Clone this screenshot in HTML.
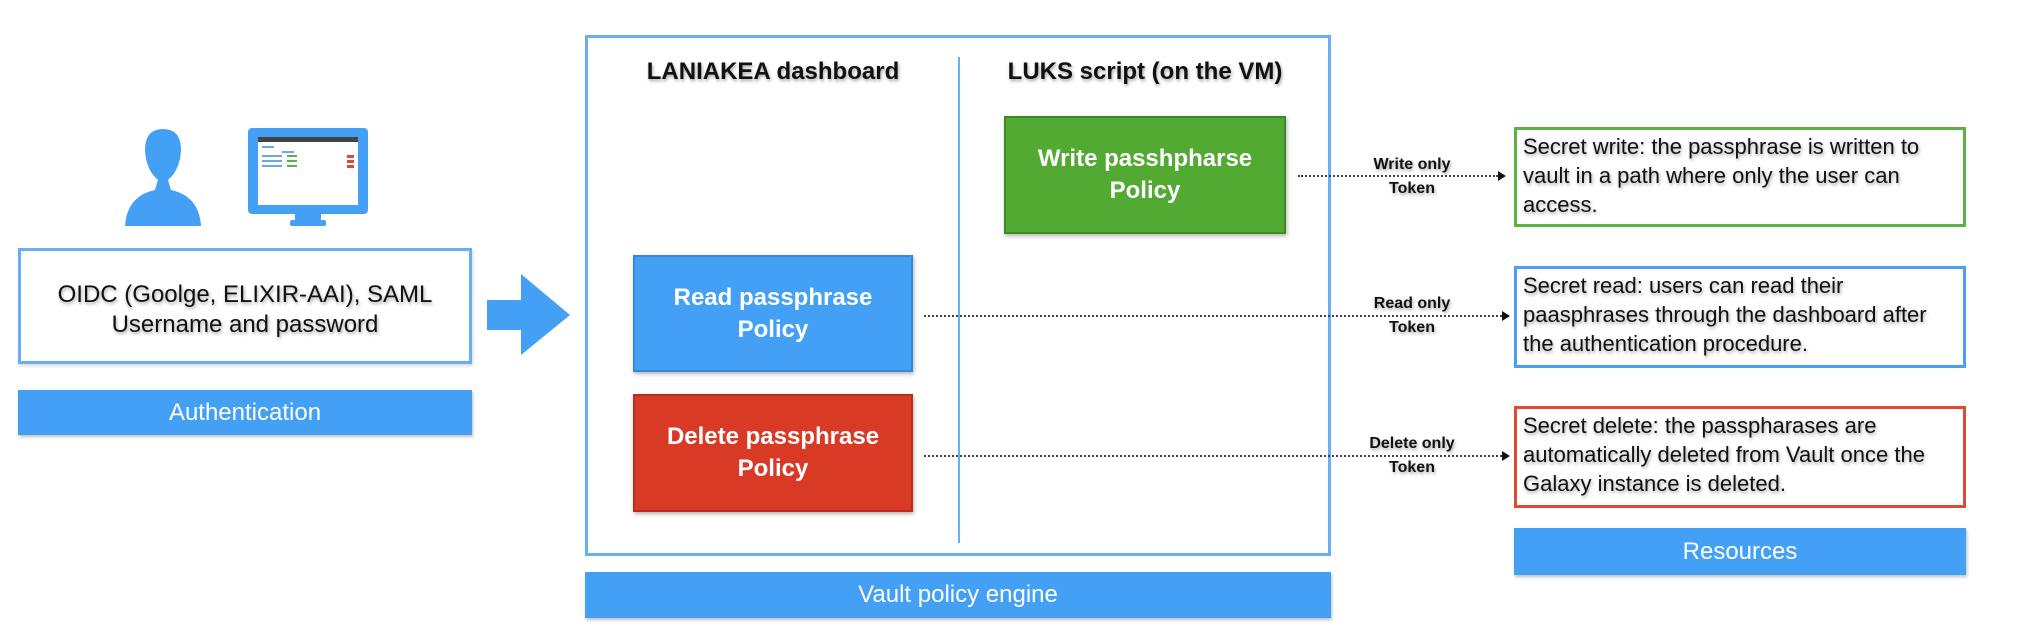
<!DOCTYPE html>
<html><head><meta charset="utf-8"><style>
body{margin:0;width:2026px;height:638px;background:#fff;position:relative;overflow:hidden;font-family:"Liberation Sans",sans-serif}
div{position:absolute;box-sizing:border-box}
.t{text-shadow:1px 2px 3px rgba(0,0,0,.35)}
.bar{background:#44a0f5;color:#fff;display:flex;align-items:center;justify-content:center;font-size:24px;box-shadow:1px 2px 3px rgba(0,0,0,.25)}
.pol{color:#fff;font-weight:bold;font-size:24px;line-height:32px;display:flex;align-items:center;justify-content:center;text-align:center;box-shadow:1px 2px 4px rgba(0,0,0,.3)}
.res{background:#fff;border:3px solid;font-size:22px;line-height:29px;padding:2px 6px;color:#111}
.lab{font-weight:bold;font-size:16px;line-height:24px;text-align:center;width:120px;color:#111}
.dot{border-top:2px dotted #444;height:0}
.ah{width:0;height:0;border-top:5px solid transparent;border-bottom:5px solid transparent;border-left:8px solid #111}
</style></head><body>
<svg style="position:absolute;left:0;top:0" width="2026" height="638">
<g fill="#44a0f5">
<path d="M125 226 Q127 196 155 190 L158 180 Q146 170 145 150 Q145 129 163 129 Q181 129 181 150 Q180 170 168 180 L171 190 Q199 196 201 226 Z"/>
<rect x="248" y="128" width="120" height="86" rx="4"/>
<rect x="295" y="212" width="26" height="10"/>
<rect x="290" y="220" width="36" height="6" rx="2"/>
<path d="M487 300 L521 300 L521 274 L570 315 L521 355 L521 330 L487 330 Z"/>
</g>
<rect x="258" y="137" width="100" height="68" fill="#fff"/>
<rect x="258" y="137" width="100" height="5" fill="#444"/>
<g fill="#6aa8e8"><rect x="262" y="146" width="12" height="2"/><rect x="262" y="155" width="20" height="2"/><rect x="262" y="160" width="20" height="2"/><rect x="262" y="165" width="20" height="2"/><rect x="282" y="151" width="12" height="2"/></g>
<g fill="#5ab04a"><rect x="287" y="155" width="10" height="2"/><rect x="287" y="160" width="10" height="2"/><rect x="287" y="165" width="10" height="2"/></g>
<g fill="#d94a3a"><rect x="347" y="155" width="7" height="3"/><rect x="347" y="160" width="7" height="3"/><rect x="347" y="165" width="7" height="3"/></g>
</svg>
<div style="left:18px;top:248px;width:454px;height:116px;border:3px solid #6aaef2;box-shadow:1px 2px 3px rgba(0,0,0,.15)"></div>
<div class="t" style="left:18px;top:280px;width:454px;text-align:center;font-size:24px;line-height:30px;color:#111">OIDC (Goolge, ELIXIR-AAI), SAML<br>Username and password</div>
<div class="bar" style="left:18px;top:390px;width:454px;height:45px">Authentication</div>

<div style="left:585px;top:35px;width:746px;height:521px;border:3px solid #6aaef2"></div>
<div style="left:958px;top:57px;width:2px;height:486px;background:#6aaef2"></div>
<div class="t" style="left:620px;top:58px;width:306px;text-align:center;font-weight:bold;font-size:24px;color:#111">LANIAKEA dashboard</div>
<div class="t" style="left:980px;top:58px;width:330px;text-align:center;font-weight:bold;font-size:24px;color:#111">LUKS script (on the VM)</div>
<div class="pol" style="left:1004px;top:116px;width:282px;height:118px;background:#53aa33;border:2px solid #3f8a27">Write passhpharse<br>Policy</div>
<div class="pol" style="left:633px;top:255px;width:280px;height:117px;background:#44a0f5;border:2px solid #3189d8">Read passphrase<br>Policy</div>
<div class="pol" style="left:633px;top:394px;width:280px;height:118px;background:#d93a26;border:2px solid #b82e1d">Delete passphrase<br>Policy</div>
<div class="bar" style="left:585px;top:572px;width:746px;height:46px">Vault policy engine</div>

<div class="dot" style="left:1298px;top:175px;width:200px"></div><div class="ah" style="left:1498px;top:171px"></div>
<div class="dot" style="left:924px;top:315px;width:578px"></div><div class="ah" style="left:1502px;top:311px"></div>
<div class="dot" style="left:924px;top:455px;width:578px"></div><div class="ah" style="left:1502px;top:451px"></div>
<div class="lab t" style="left:1352px;top:153px">Write only<br>Token</div>
<div class="lab t" style="left:1352px;top:292px">Read only<br>Token</div>
<div class="lab t" style="left:1352px;top:432px">Delete only<br>Token</div>

<div class="res t" style="left:1514px;top:127px;width:452px;height:100px;border-color:#5cb245">Secret write: the passphrase is written to vault in a path where only the user can access.</div>
<div class="res t" style="left:1514px;top:266px;width:452px;height:102px;border-color:#4aa0f0">Secret read: users can read their paasphrases through the dashboard after the authentication procedure.</div>
<div class="res t" style="left:1514px;top:406px;width:452px;height:102px;border-color:#df4a33">Secret delete: the passpharases are automatically deleted from Vault once the Galaxy instance is deleted.</div>
<div class="bar" style="left:1514px;top:528px;width:452px;height:47px">Resources</div>
</body></html>
